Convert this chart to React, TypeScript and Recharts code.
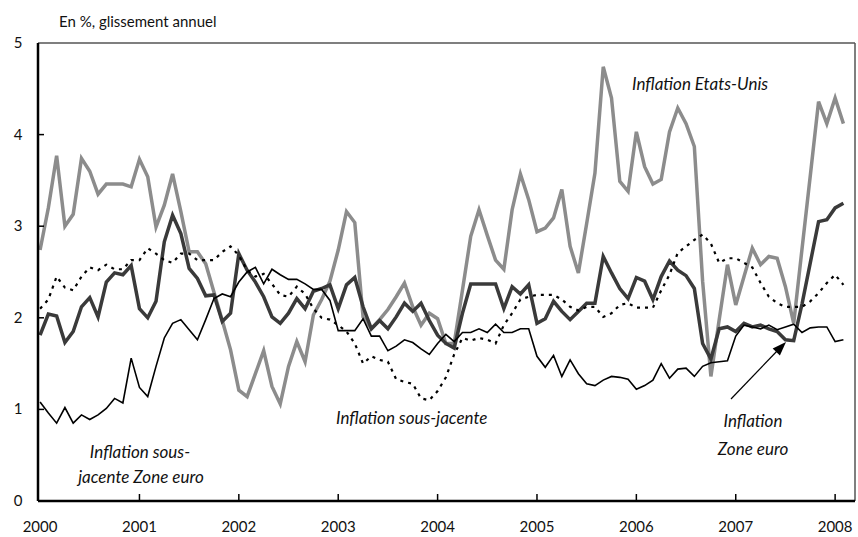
import { LineChart, Line, XAxis, YAxis, ReferenceLine } from "recharts";

// monthly, Jan 2000 -> Feb 2008 (index 0..97)
const usHeadline = [
  2.74, 3.2, 3.77, 3.0, 3.13, 3.74, 3.6, 3.35, 3.46, 3.46, 3.46, 3.43,
  3.73, 3.54, 2.99, 3.23, 3.57, 3.16, 2.72, 2.72, 2.59, 2.28, 1.97, 1.65,
  1.21, 1.14, 1.39, 1.64, 1.25, 1.06, 1.47, 1.74, 1.52, 2.03, 2.2, 2.4,
  2.74, 3.16, 3.04, 2.01, 1.88, 1.98, 2.09, 2.23, 2.38, 2.12, 1.92, 2.05,
  1.99, 1.72, 1.72, 2.3, 2.89, 3.18, 2.9, 2.63, 2.53, 3.18, 3.57, 3.29,
  2.94, 2.98, 3.09, 3.4, 2.78, 2.49, 3.03, 3.58, 4.74, 4.4, 3.49, 3.38,
  4.03, 3.65, 3.46, 3.51, 4.03, 4.29, 4.12, 3.87, 2.4, 1.36, 1.98, 2.58,
  2.14, 2.45, 2.76, 2.58, 2.67, 2.65, 2.34, 1.94, 2.75, 3.55, 4.36, 4.12,
  4.4, 4.12,
];

const euroHeadline = [
  1.81, 2.04, 2.02, 1.73, 1.85, 2.12, 2.22, 2.01, 2.39, 2.49, 2.47, 2.57,
  2.1, 2.0, 2.18, 2.83, 3.12, 2.92, 2.54, 2.43, 2.24, 2.25, 1.96, 2.05,
  2.7, 2.52, 2.39, 2.23, 2.01, 1.94, 2.05, 2.21, 2.1, 2.29, 2.32, 2.36,
  2.1, 2.36, 2.44, 2.12, 1.88, 1.97, 1.88, 2.01, 2.16, 2.07, 2.16, 1.97,
  1.81, 1.72, 1.67, 2.05, 2.37, 2.37, 2.37, 2.37, 2.1, 2.34, 2.26, 2.36,
  1.94, 1.99, 2.18, 2.07, 1.98, 2.07, 2.16, 2.16, 2.67, 2.49, 2.32, 2.21,
  2.44, 2.4, 2.2, 2.45, 2.62, 2.52, 2.46, 2.32, 1.72, 1.55, 1.88, 1.9,
  1.85, 1.94, 1.9, 1.92, 1.88, 1.85, 1.76, 1.75, 2.15, 2.6, 3.05, 3.07,
  3.2, 3.25,
];

const euroCore = [
  1.08, 0.96, 0.85, 1.02, 0.85, 0.94, 0.89, 0.94, 1.01, 1.12, 1.07, 1.56,
  1.24, 1.14, 1.47, 1.78, 1.94, 1.98, 1.87, 1.76, 1.98, 2.21, 2.26, 2.23,
  2.39, 2.5, 2.55, 2.37, 2.53, 2.47, 2.42, 2.42, 2.37, 2.31, 2.31, 2.19,
  1.86, 1.86, 1.86, 1.99, 1.8, 1.8, 1.64, 1.69, 1.76, 1.73, 1.66, 1.6,
  1.72, 1.82, 1.74, 1.84, 1.84, 1.88, 1.84, 1.93, 1.84, 1.84, 1.88, 1.88,
  1.58, 1.46, 1.59, 1.36, 1.54, 1.39, 1.28, 1.26, 1.32, 1.36, 1.35, 1.33,
  1.22, 1.26, 1.32, 1.5, 1.34, 1.44, 1.45, 1.36, 1.47, 1.51, 1.52, 1.53,
  1.8, 1.92, 1.9, 1.88, 1.92, 1.87, 1.9, 1.93, 1.84, 1.89, 1.9, 1.9,
  1.74, 1.76,
];

const usCore = [
  2.1, 2.2, 2.45, 2.33, 2.3, 2.45, 2.55, 2.52, 2.58, 2.53, 2.53, 2.63,
  2.63, 2.76, 2.7, 2.63, 2.6, 2.7, 2.7, 2.63, 2.63, 2.63, 2.72, 2.78,
  2.68, 2.52, 2.45, 2.48, 2.37, 2.25, 2.23, 2.34, 2.26, 2.1, 2.0, 1.98,
  1.92, 1.85, 1.72, 1.5, 1.58, 1.54, 1.52, 1.33, 1.3, 1.28, 1.12, 1.1,
  1.2, 1.35, 1.6, 1.78, 1.75, 1.78, 1.76, 1.72, 1.92, 2.05, 2.2, 2.23,
  2.25, 2.25, 2.25, 2.2, 2.12, 2.08, 2.12, 2.12, 2.01, 2.05, 2.14, 2.16,
  2.11, 2.11, 2.11, 2.3, 2.47, 2.71, 2.78, 2.85, 2.91, 2.81, 2.6, 2.65,
  2.65, 2.6, 2.55, 2.38, 2.23, 2.16, 2.12, 2.12, 2.12, 2.18, 2.27, 2.38,
  2.47, 2.36,
];

const years = ["2000", "2001", "2002", "2003", "2004", "2005", "2006", "2007", "2008"];
const yTicks = [0, 1, 2, 3, 4, 5];

const X_MAX = 98.4;

const data = usHeadline.map((v, i) => ({
  i,
  us: v,
  ea: euroHeadline[i],
  eaCore: euroCore[i],
  usCore: usCore[i],
}));

const FONT = "Lato, 'Open Sans', sans-serif";

function YTick({ x, y, payload }: any) {
  return (
    <g>
      {payload.value > 0 && payload.value < 5 && (
        <line x1={x} x2={x + 6} y1={y} y2={y} stroke="#000" strokeWidth={1.5} />
      )}
      <text x={x - 20} y={y + 5} textAnchor="middle" fontSize={15} fontFamily={FONT} fill="#111">
        {payload.value}
      </text>
    </g>
  );
}

function XTick({ x, y, payload }: any) {
  const idx = Math.round(payload.value / 12);
  return (
    <g>
      {payload.value > 0 && (
        <line x1={x} x2={x} y1={y} y2={y - 7} stroke="#000" strokeWidth={1.5} />
      )}
      <text x={x} y={y + 31} textAnchor="middle" fontSize={15} fontFamily={FONT} fill="#111">
        {years[idx]}
      </text>
    </g>
  );
}

export default function App() {
  const italic = { fontFamily: FONT, fontStyle: "italic" as const, fontSize: 17, fill: "#111" };
  return (
    <div style={{ position: "absolute", left: 0, top: 0, width: 858, height: 537, background: "#fff" }}>
      <LineChart
        width={858}
        height={537}
        data={data}
        margin={{ top: 43, right: 3, left: 0, bottom: 0 }}
      >
        <XAxis
          type="number"
          dataKey="i"
          domain={[-0.25, X_MAX]}
          ticks={[0, 12, 24, 36, 48, 60, 72, 84, 96]}
          height={36}
          tickSize={0}
          tickMargin={0}
          tickLine={false}
          axisLine={{ stroke: "#000", strokeWidth: 2.5 }}
          tick={<XTick />}
          allowDataOverflow
        />
        <YAxis
          type="number"
          domain={[0, 5]}
          ticks={yTicks}
          width={38}
          tickSize={0}
          tickMargin={0}
          tickLine={false}
          axisLine={{ stroke: "#000", strokeWidth: 2.5 }}
          tick={<YTick />}
        />
        <ReferenceLine y={5} stroke="#555" strokeWidth={1.5} />
        <ReferenceLine x={X_MAX} stroke="#555" strokeWidth={1.5} />
        <Line dataKey="us" stroke="#8c8c8c" strokeWidth={3.5} dot={false} isAnimationActive={false} strokeLinejoin="miter" />
        <Line dataKey="ea" stroke="#3a3a3a" strokeWidth={3.5} dot={false} isAnimationActive={false} strokeLinejoin="miter" />
        <Line dataKey="eaCore" stroke="#000" strokeWidth={1.6} dot={false} isAnimationActive={false} />
        <Line dataKey="usCore" stroke="#000" strokeWidth={2.2} strokeDasharray="3 5" dot={false} isAnimationActive={false} />
      </LineChart>
      <svg
        width={858}
        height={537}
        style={{ position: "absolute", left: 0, top: 0, pointerEvents: "none" }}
      >
        <text x={59} y={27} fontFamily={FONT} fontSize={15} fill="#111">
          En %, glissement annuel
        </text>
        <text x={632} y={90} {...italic}>Inflation Etats-Unis</text>
        <text x={336} y={424} {...italic}>Inflation sous-jacente</text>
        <text x={140} y={458} textAnchor="middle" {...italic}>Inflation sous-</text>
        <text x={141} y={483} textAnchor="middle" {...italic}>jacente Zone euro</text>
        <text x={753} y={427} textAnchor="middle" {...italic}>Inflation</text>
        <text x={753} y={455} textAnchor="middle" {...italic}>Zone euro</text>
        <line x1={731} y1={399} x2={779} y2={349} stroke="#000" strokeWidth={1.2} />
        <polygon points="786,342 779.9,355.6 772.7,348.6" fill="#000" />
      </svg>
    </div>
  );
}
